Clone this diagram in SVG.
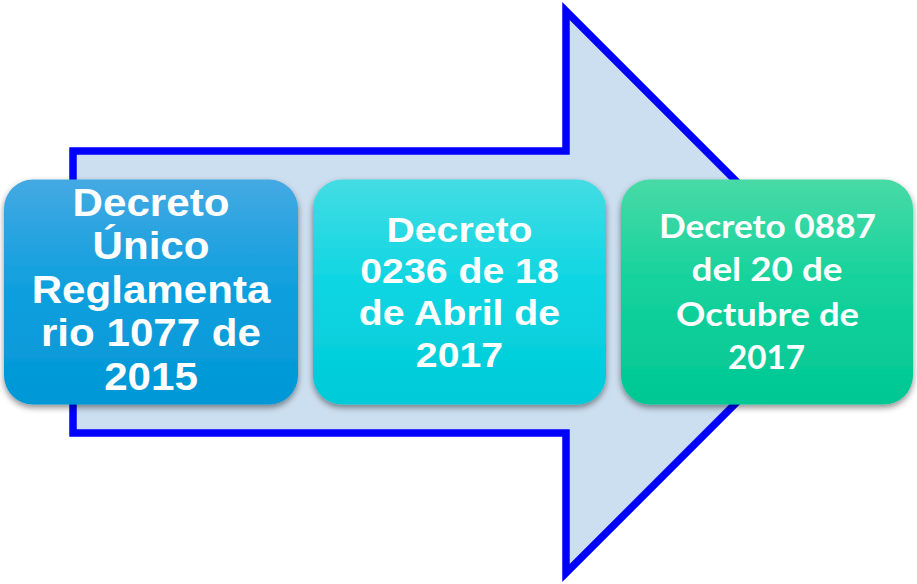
<svg xmlns="http://www.w3.org/2000/svg" width="917" height="584" viewBox="0 0 917 584">
<defs>
<linearGradient id="g1" x1="0" y1="0" x2="0" y2="1"><stop offset="0" stop-color="#44a9e3"/><stop offset="0.45" stop-color="#12a0de"/><stop offset="1" stop-color="#0097d6"/></linearGradient>
<linearGradient id="g2" x1="0" y1="0" x2="0" y2="1"><stop offset="0" stop-color="#44dce3"/><stop offset="0.45" stop-color="#0ed6e2"/><stop offset="1" stop-color="#00cad8"/></linearGradient>
<linearGradient id="g3" x1="0" y1="0" x2="0" y2="1"><stop offset="0" stop-color="#48daa6"/><stop offset="0.45" stop-color="#16d29c"/><stop offset="1" stop-color="#00c794"/></linearGradient>
<filter id="sh" x="-10%" y="-10%" width="120%" height="125%"><feDropShadow dx="0" dy="3" stdDeviation="3" flood-color="#000" flood-opacity="0.45"/></filter>
<style>
.box{filter:url(#sh)}
.ta{font-family:"Liberation Sans",Arial,sans-serif;font-weight:bold;fill:#fff;text-anchor:middle}
.tc{font-family:Lato,"Open Sans",sans-serif;font-weight:bold;fill:#fff;text-anchor:middle;font-size:33px}
</style>
</defs>
<g id="arrow">
<polygon points="73,151 566,151 566,11 847,292 566,573 566,433 73,433" fill="#ccdff0" stroke="#0000ff" stroke-width="7.5" stroke-linejoin="miter"/>
</g>
<g id="connectors"></g>
<g id="node1">
<rect class="box" x="4" y="179.5" width="294" height="225" rx="29" fill="url(#g1)"/>
<g transform="translate(151,0) scale(1.08,1)">
<text class="ta" font-size="39"><tspan x="0" y="216">Decreto</tspan><tspan x="0" y="259.5">Único</tspan><tspan x="0" y="303">Reglamenta</tspan><tspan x="0" y="346.5">rio 1077 de</tspan><tspan x="0" y="390.5">2015</tspan></text>
</g>
</g>
<g id="node2">
<rect class="box" x="313" y="179.5" width="293" height="225" rx="29" fill="url(#g2)"/>
<g transform="translate(459.5,0) scale(1.09,1)">
<text class="ta" font-size="36"><tspan x="0" y="242">Decreto</tspan><tspan x="0" y="283">0236 de 18</tspan><tspan x="0" y="325">de Abril de</tspan><tspan x="0" y="367">2017</tspan></text>
</g>
</g>
<g id="node3">
<rect class="box" x="621" y="179.5" width="292" height="225" rx="29" fill="url(#g3)"/>
<text class="tc" x="767.5" y="238" textLength="217" lengthAdjust="spacingAndGlyphs">Decreto 0887</text>
<text class="tc" x="767" y="281" textLength="151" lengthAdjust="spacingAndGlyphs">del 20 de</text>
<text class="tc" x="767.5" y="325.5" textLength="183" lengthAdjust="spacingAndGlyphs">Octubre de</text>
<text class="tc" x="766.5" y="369" textLength="77" lengthAdjust="spacingAndGlyphs">2017</text>
</g>
</svg>
